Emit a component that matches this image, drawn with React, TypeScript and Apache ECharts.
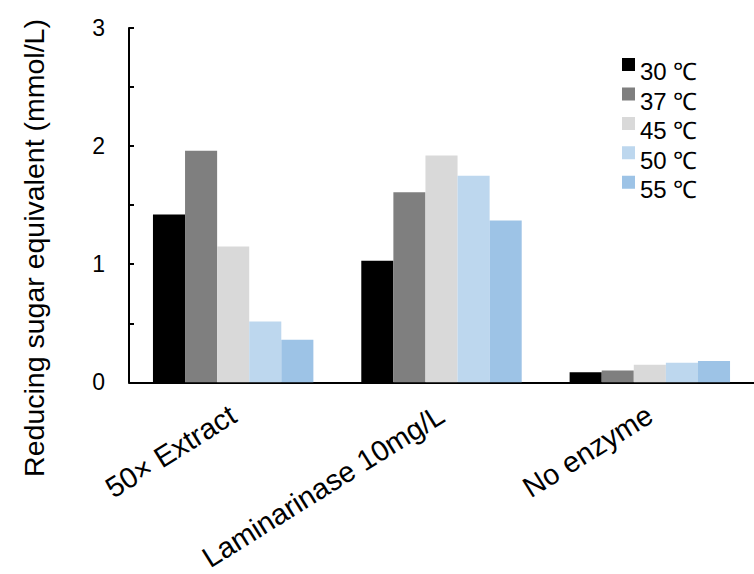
import React, { useEffect, useRef } from "react";
import * as echarts from "echarts";

const categories = ["50× Extract", "Laminarinase 10mg/L", "No enzyme"];
const seriesNames = ["30 ℃", "37 ℃", "45 ℃", "50 ℃", "55 ℃"];
const seriesColors = ["#000000", "#7f7f7f", "#d9d9d9", "#bdd7ee", "#9dc3e6"];
const v30 = [1.42, 1.03, 0.086];
const v37 = [1.96, 1.61, 0.1];
const v45 = [1.15, 1.92, 0.148];
const v50 = [0.515, 1.75, 0.165];
const v55 = [0.36, 1.37, 0.18];
const seriesValues = [v30, v37, v45, v50, v55];
const yTicks = [0, 1, 2, 3];
const yName = "Reducing sugar equivalent (mmol/L)";

const FONT = "'Liberation Sans', Arial, sans-serif";
const LEGEND_ICON = "path://M0,0h13v13h-13z M0,27.9h0.05v0.05h-0.05z";

export default function App() {
  const ref = useRef<HTMLDivElement>(null);
  useEffect(() => {
    if (!ref.current) return;
    const chart = echarts.init(ref.current, null, { renderer: "svg" });
    chart.setOption({
      animation: false,
      backgroundColor: "#ffffff",
      textStyle: { fontFamily: FONT },
      grid: { left: 129, top: 28, width: 633, height: 355, containLabel: false },
      legend: {
        orient: "vertical",
        left: 617,
        top: 53,
        itemWidth: 13,
        itemHeight: 28,
        itemGap: 1.5,
        itemTextGap: 4,
        icon: LEGEND_ICON,
        textStyle: {
          fontSize: 24,
          color: "#000",
          fontFamily: FONT,
        },
        itemStyle: { borderWidth: 0 },
        data: seriesNames,
      },
      xAxis: {
        type: "category",
        data: categories,
        axisLine: { lineStyle: { color: "#000", width: 2 } },
        axisTick: { show: false },
        axisLabel: {
          rotate: 32,
          fontSize: 29,
          color: "#000",
          margin: 30,
          interval: 0,
          fontFamily: FONT,
        },
      },
      yAxis: {
        type: "value",
        min: yTicks[0],
        max: yTicks[yTicks.length - 1],
        interval: 1,
        axisLine: { show: true, lineStyle: { color: "#000", width: 2 } },
        axisTick: { show: true, inside: true, length: 5, lineStyle: { color: "#000", width: 2 } },
        minorTick: { show: true, splitNumber: 2, length: 5, lineStyle: { color: "#000", width: 2 } },
        splitLine: { show: false },
        axisLabel: { fontSize: 23, color: "#000", margin: 24, fontFamily: FONT },
      },
      graphic: [
        {
          type: "text",
          x: 34,
          y: 248,
          rotation: Math.PI / 2,
          style: {
            text: yName,
            fontSize: 28.5,
            fontFamily: FONT,
            fill: "#000",
            align: "center",
            verticalAlign: "middle",
          },
        },
      ],
      series: seriesNames.map((name, i) => ({
        name,
        type: "bar",
        data: seriesValues[i],
        barGap: "0%",
        barCategoryGap: "23%",
        itemStyle: { color: seriesColors[i] },
      })),
    });
    return () => chart.dispose();
  }, []);
  return (
    <div
      ref={ref}
      style={{ position: "absolute", left: 0, top: 0, width: 754, height: 574 }}
    />
  );
}
